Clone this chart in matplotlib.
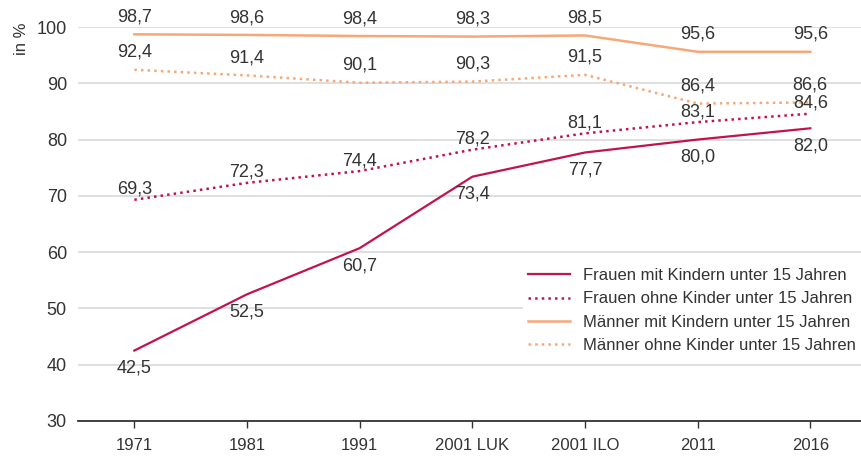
import matplotlib
matplotlib.use("Agg")
import matplotlib.pyplot as plt

plt.rcParams["font.family"] = ["Liberation Sans", "DejaVu Sans"]

# Data
categories = ["1971", "1981", "1991", "2001 LUK", "2001 ILO", "2011", "2016"]
frauen_mit = [42.5, 52.5, 60.7, 73.4, 77.7, 80.0, 82.0]
frauen_ohne = [69.3, 72.3, 74.4, 78.2, 81.1, 83.1, 84.6]
maenner_mit = [98.7, 98.6, 98.4, 98.3, 98.5, 95.6, 95.6]
maenner_ohne = [92.4, 91.4, 90.1, 90.3, 91.5, 86.4, 86.6]

RED = "#C2134D"
ORANGE = "#F5A878"
TXT = "#333333"

# label, values, colour, linestyle, linewidth, label offset (pt, + above / - below)
series = [
    ("Frauen mit Kindern unter 15 Jahren", frauen_mit, RED, "-", 1.6, -12.5),
    ("Frauen ohne Kinder unter 15 Jahren", frauen_ohne, RED, ":", 1.8, 7.5),
    ("Männer mit Kindern unter 15 Jahren", maenner_mit, ORANGE, "-", 1.8, 12.5),
    ("Männer ohne Kinder unter 15 Jahren", maenner_ohne, ORANGE, ":", 1.8, 12.5),
]

fig = plt.figure(figsize=(8.61, 4.58), dpi=100)
ax = fig.add_axes([0.0906, 0.081, 0.9094, 0.86])

x = list(range(len(categories)))
for label, vals, color, ls, lw, off in series:
    ax.plot(x, vals, color=color, ls=ls, lw=lw, label=label, zorder=3)
    for xi, v in zip(x, vals):
        ax.annotate(f"{v:.1f}".replace(".", ","), (xi, v),
                    xytext=(0, off), textcoords="offset points",
                    ha="center", va="center", fontsize=13, color=TXT,
                    annotation_clip=False, zorder=4)

ax.set_ylim(30, 100)
ax.set_xlim(-0.5, 6.45)
ax.set_yticks(range(30, 101, 10))
ax.set_xticks(x)
ax.set_xticklabels(categories)
ax.yaxis.grid(True, color="#d9d9d9", lw=1.2)
ax.set_axisbelow(True)
for s in ["left", "right", "top"]:
    ax.spines[s].set_visible(False)
ax.spines["bottom"].set_color("#333333")
ax.spines["bottom"].set_linewidth(1.3)
ax.tick_params(axis="y", length=0, pad=8, labelsize=13, colors=TXT)
ax.tick_params(axis="x", length=5, width=1, color="#333333", pad=7,
               labelsize=12, colors=TXT)
ax.set_ylabel("in %", fontsize=12, color=TXT)
ax.yaxis.set_label_coords(-0.062, 0.97)

leg = ax.legend(loc="center right", bbox_to_anchor=(1.0, 0.28), frameon=True,
                fontsize=12, handlelength=2.5, handletextpad=0.8,
                labelspacing=0.5, borderaxespad=0, borderpad=0.3,
                fancybox=False)
leg.get_frame().set_edgecolor("white")
leg.get_frame().set_facecolor("white")
leg.get_frame().set_alpha(1)
for t in leg.get_texts():
    t.set_color(TXT)

fig.savefig("out.png", dpi=100)
